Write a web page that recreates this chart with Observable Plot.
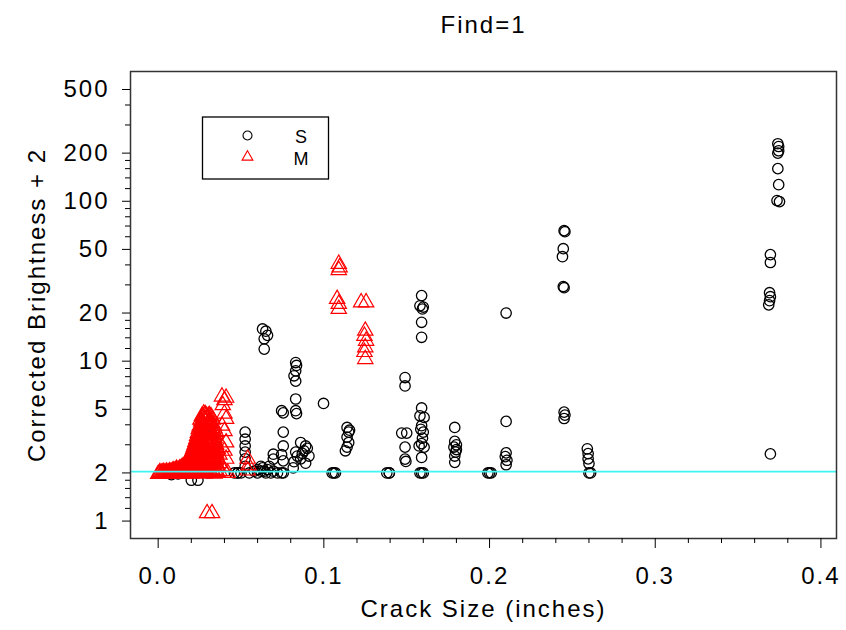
<!DOCTYPE html>
<html>
<head>
<meta charset="utf-8">
<script src="https://cdn.jsdelivr.net/npm/d3@7"></script>
<script src="https://cdn.jsdelivr.net/npm/@observablehq/plot@0.6"></script>
<style>
  body { margin: 0; background: #fff; }
  #chart svg text { letter-spacing: 2px; }
</style>
</head>
<body>
<div id="chart"></div>
<script>
// Series S (circles): crack size per group, brightness values at that crack size
const sCrack = [
  0.008, 0.012, 0.020, 0.024, 0.026, 0.030, 0.034, 0.035, 0.046, 0.048,
  0.050, 0.0525, 0.055, 0.058, 0.060, 0.062, 0.063, 0.064, 0.065, 0.066,
  0.067, 0.068, 0.0695, 0.072, 0.0745, 0.0755, 0.0815, 0.082, 0.083, 0.0835,
  0.084, 0.086, 0.087, 0.088, 0.089, 0.090, 0.091, 0.0998, 0.105, 0.106,
  0.107, 0.113, 0.114, 0.115, 0.1155, 0.138, 0.1395, 0.147, 0.149, 0.1495,
  0.150, 0.1575, 0.158, 0.1585, 0.159, 0.1595, 0.160, 0.1605, 0.1785, 0.179,
  0.1795, 0.180, 0.199, 0.200, 0.201, 0.2095, 0.210, 0.2105, 0.244, 0.2445,
  0.245, 0.2455, 0.259, 0.2595, 0.260, 0.261, 0.3685, 0.369, 0.3695, 0.3735,
  0.374, 0.3745, 0.375
];
const sBright = [
  [1.95], [1.97], [1.80], [1.80], [2.10], [2.00], [3.75], [3.10], [2.00], [2.00, 2.00],
  [2.00], [3.60, 3.25, 2.95, 2.70, 2.45, 2.20], [2.00], [2.05], [2.10, 2.00], [2.20, 2.05], [15.9, 2.15], [13.8, 11.9, 2.05], [15.4, 2.00], [14.5, 2.10],
  [2.20], [2.00], [2.62, 2.44, 2.05], [2.00], [4.90, 2.60, 2.00], [4.75, 3.60, 2.95, 2.38, 2.00], [2.15], [8.10, 2.35], [9.80, 8.70, 7.50, 5.80, 4.90, 2.70], [9.40, 4.70],
  [2.55], [3.10, 2.45], [2.65], [2.75], [2.95, 2.30], [2.85], [2.55], [5.44], [2.00], [2.00],
  [2.00], [2.75], [3.85, 3.35, 2.90], [3.60, 3.10], [3.70], [2.00], [2.00, 2.00], [3.55], [7.90, 7.00, 2.90, 2.44], [2.36],
  [3.55], [2.95], [22.2, 4.55, 2.00], [3.75], [25.7, 17.5, 14.1, 5.10, 3.95, 3.05, 2.50, 2.00], [21.2, 3.30], [21.8, 3.60, 2.00], [4.45, 2.90], [2.90], [3.85, 3.15, 2.55, 2.33],
  [2.70], [3.00, 2.80], [2.00], [2.00], [2.00], [2.53], [20.0, 4.20, 2.67, 2.25], [2.40], [45.0], [50.5, 29.3],
  [65.5, 28.8, 4.80, 4.38], [64.5, 4.60], [2.83], [2.64, 2.45], [2.29, 2.00], [2.00], [22.5], [26.8, 23.9], [46.4, 41.4, 25.3, 2.63], [101],
  [229, 200, 160], [220, 207, 127], [99.5]
];

// Series M (triangles): dense cluster of small cracks, then the scattered larger ones
const mCrack = [
  0.000, 0.001, 0.002, 0.003, 0.004, 0.005, 0.006, 0.007, 0.008, 0.009,
  0.010, 0.011, 0.012, 0.013, 0.014, 0.015, 0.016, 0.0165, 0.017, 0.0175,
  0.018, 0.0185, 0.019, 0.0195, 0.020, 0.0205, 0.021, 0.0215, 0.022, 0.0225,
  0.023, 0.0235, 0.024, 0.0245, 0.025, 0.0255, 0.026, 0.0265, 0.027, 0.0275,
  0.028, 0.0285, 0.029, 0.030, 0.0305, 0.031, 0.0315, 0.032, 0.033, 0.0335,
  0.034, 0.0345, 0.035, 0.0355, 0.036, 0.037,
  0.0295, 0.0325, 0.0385, 0.039, 0.040, 0.041, 0.042, 0.054, 0.0545, 0.108,
  0.109, 0.1095, 0.1225, 0.1245, 0.125, 0.1255
];
const mBright = [
  [1.97], [1.99, 2.02], [1.98, 2.00], [1.98, 2.03], [1.97, 2.01], [2.00, 2.04], [1.99, 2.02], [1.97, 2.01, 2.05], [1.98, 2.03], [1.99, 2.04, 2.08],
  [2.00, 2.06], [2.01, 2.07, 2.12], [1.97, 2.04, 2.10], [1.98, 2.05, 2.13], [2.00, 2.08, 2.16], [2.02, 2.12, 2.20], [1.98, 2.10, 2.22], [2.00, 2.18, 2.27], [2.05, 2.30], [1.99, 2.12, 2.24, 2.35],
  [2.00, 2.15, 2.38], [2.06, 2.20, 2.32, 2.45], [2.10, 2.25, 2.50], [2.02, 2.15, 2.35, 2.55], [1.98, 2.20, 2.40, 2.65], [2.10, 2.28, 2.48, 2.70], [2.05, 2.30, 2.55, 2.80], [2.00, 2.18, 2.40, 2.62, 2.90], [2.00, 2.15, 2.45, 2.75, 3.00], [2.06, 2.28, 2.52, 2.85, 3.12],
  [2.10, 2.35, 2.60, 2.95, 3.25], [2.02, 2.20, 2.45, 2.72, 3.05, 3.40], [2.00, 2.25, 2.55, 2.85, 3.20, 3.55], [2.08, 2.32, 2.62, 2.95, 3.35, 3.75],
  [2.05, 2.40, 2.70, 3.05, 3.45, 3.90], [2.02, 2.28, 2.58, 2.98, 3.40, 3.85, 4.30], [2.00, 2.20, 2.50, 2.90, 3.30, 3.75, 4.20], [2.06, 2.42, 2.78, 3.20, 3.65, 4.15, 4.55],
  [2.10, 2.35, 2.65, 3.10, 3.55, 4.05, 4.50], [2.02, 2.30, 2.70, 3.05, 3.50, 4.00, 4.45, 4.70],
  [1.98, 2.25, 2.55, 2.95, 3.40, 3.90, 4.35, 4.60], [2.12, 2.48, 2.88, 3.30, 3.80, 4.30, 4.65], [2.05, 2.40, 2.80, 3.20, 3.70, 4.20, 4.55],
  [2.00, 2.30, 2.65, 3.00, 3.50, 4.00, 4.50], [2.05, 2.38, 2.75, 3.15, 3.65, 4.15, 4.55], [2.10, 2.45, 2.85, 3.30, 3.80, 4.30, 4.60], [2.00, 2.30, 2.65, 3.10, 3.60, 4.05],
  [2.00, 2.20, 2.55, 2.95, 3.45, 4.10, 4.50], [2.05, 2.35, 2.70, 3.15, 3.70, 4.30], [2.02, 2.28, 2.62, 3.00, 3.45, 3.95],
  [1.98, 2.20, 2.50, 2.85, 3.30, 3.80], [2.08, 2.40, 2.72, 3.15, 3.50], [2.05, 2.30, 2.65, 3.00, 3.60], [2.02, 2.22, 2.50, 2.85], [2.00, 2.20, 2.45, 2.80], [2.05, 2.30, 2.60],
  [1.12], [1.12], [6.00, 3.95, 2.90, 2.20], [5.30], [5.70, 4.70, 3.65, 2.75, 2.05], [5.90, 4.35, 3.10, 2.45], [2.00], [2.45, 2.07], [2.23], [24.5],
  [40.6, 37.1, 22.8, 21.2], [38.6], [23.3], [14.4, 11.4], [15.5, 12.2, 10.3], [23.3, 13.4]
];

const groups = ["S", "M"];
const threshold = 2.04;

// Axis ticks
const xTicks = [0, 0.1, 0.2, 0.3, 0.4];
const xMinor = [0.02, 0.04, 0.06, 0.08, 0.12, 0.14, 0.16, 0.18, 0.22, 0.24, 0.26, 0.28, 0.32, 0.34, 0.36, 0.38];
const yTicks = [1, 2, 5, 10, 20, 50, 100, 200, 500];
const yMinor = [1.2, 1.4, 1.6, 1.8, 3, 4, 6, 7, 8, 9, 12, 14, 16, 18, 30, 40, 60, 70, 80, 90, 120, 140, 160, 180, 300, 400];

const titleText = "Find=1";
const xLabel = "Crack Size (inches)";
const yLabel = "Corrected Brightness + 2";

const toRows = (cracks, brights, g) =>
  cracks.flatMap((c, i) => brights[i].map(b => ({crack: c, bright: b, group: g})));
const sRows = toRows(sCrack, sBright, groups[0]);
const mRows = toRows(mCrack, mBright, groups[1]);

const fontFamily = "'Liberation Sans', Arial, Helvetica, sans-serif";

const chart = Plot.plot({
  width: 846,
  height: 630,
  marginLeft: 130,
  marginRight: 10,
  marginTop: 71,
  marginBottom: 92,
  style: {fontFamily, fontSize: "24px", background: "white", color: "black", overflow: "visible"},
  x: {domain: [-0.0167, 0.4094], label: null},
  y: {type: "log", domain: [0.778, 648], label: null},
  marks: [
    Plot.dot(sRows, {x: "crack", y: "bright", r: 5.2, symbol: "circle", fill: "none", stroke: "black", strokeWidth: 1.3}),
    Plot.dot(mRows, {x: "crack", y: "bright", r: 5.7, symbol: "triangle", fill: "none", stroke: "#ff0000", strokeWidth: 1.2}),
    Plot.ruleY([threshold], {stroke: "#3ff4f4", strokeWidth: 1.8}),
    Plot.frame({stroke: "#333", strokeWidth: 1.5}),
    Plot.axisY(yTicks, {tickSize: 8, tickPadding: 13, tickFormat: d => String(d), label: null, fontSize: 24}),
    Plot.axisY(yMinor, {tickSize: 5, tickFormat: () => "", label: null}),
    Plot.axisX(xTicks, {tickSize: 10, tickPadding: 18, tickFormat: d3.format(".1f"), label: null, fontSize: 24}),
    Plot.axisX(xMinor, {tickSize: 5, tickFormat: () => "", label: null}),
    Plot.text([titleText], {frameAnchor: "top", dy: -46, lineAnchor: "middle", fontSize: 24}),
    Plot.text([xLabel], {frameAnchor: "bottom", dy: 71, lineAnchor: "middle", fontSize: 24}),
    Plot.text([yLabel], {frameAnchor: "left", dx: -93, rotate: -90, textAnchor: "middle", lineAnchor: "middle", fontSize: 24})
  ]
});

document.getElementById("chart").append(chart);

// Legend box in the upper-left of the panel
const svg = d3.select(chart);
const legend = svg.append("g").attr("font-family", fontFamily);
legend.append("rect")
  .attr("x", 202.5).attr("y", 117).attr("width", 126).attr("height", 62)
  .attr("fill", "white").attr("stroke", "black").attr("stroke-width", 1.3);
const legendItems = [
  {label: groups[0], symbol: d3.symbolCircle, size: Math.PI * 4.5 * 4.5, color: "black", y: 135.5},
  {label: groups[1], symbol: d3.symbolTriangle2, size: Math.PI * 5.2 * 5.2, color: "#ff0000", y: 157}
];
for (const item of legendItems) {
  legend.append("path")
    .attr("d", d3.symbol(item.symbol, item.size)())
    .attr("transform", `translate(247.5,${item.y})`)
    .attr("fill", "none").attr("stroke", item.color).attr("stroke-width", 1.1);
  legend.append("text")
    .attr("x", 301).attr("y", item.y + 3)
    .attr("text-anchor", "middle").attr("dominant-baseline", "middle")
    .attr("font-size", 18).style("letter-spacing", "0px")
    .text(item.label);
}
</script>
</body>
</html>
